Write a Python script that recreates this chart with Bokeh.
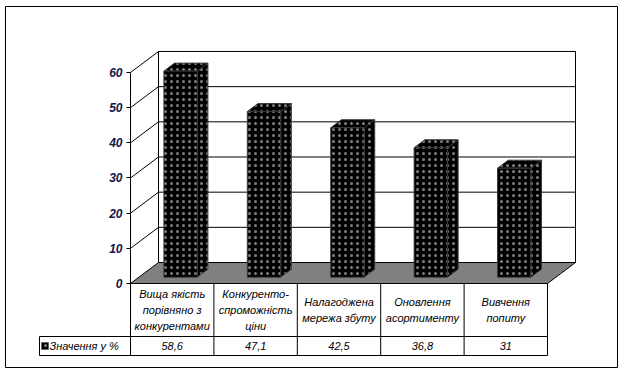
from bokeh.plotting import figure
from bokeh.models import FixedTicker
from bokeh.core.properties import value
from bokeh.embed import file_html
from bokeh.resources import INLINE

# ---- data ----
categories = ["Вища якість\nпорівняно з\nконкурентами",
              "Конкуренто-\nспроможність\nціни",
              "Налагоджена\nмережа збуту",
              "Оновлення\nасортименту",
              "Вивчення\nпопиту"]
values = [58.6, 47.1, 42.5, 36.8, 31]
series_name = "Значення у %"
y_ticks = [0, 10, 20, 30, 40, 50, 60]

# ---- layout constants (pixels -> data units) ----
W, H = 623, 372
BL, BT, BR, BB = 5, 6, 617, 367     # outer frame box in page px
PX_X = 83.4          # px per category
PX_Y = 3.517         # px per value unit
X0_PX, Y0_PX = 130, 283   # origin (category 0 / value 0) in page px
xs = (BL - X0_PX) / PX_X
xe = (BR - X0_PX) / PX_X
ye = (Y0_PX - BT) / PX_Y
ys = (Y0_PX - BB) / PX_Y
DX = 28 / PX_X       # depth offset
DY = 21 / PX_Y
Z0, Z1 = 0.30, 0.68  # bar depth span
BW = 0.40            # bar width
ROW1 = -53 / PX_Y    # bottom of category row
ROW2 = -72 / PX_Y    # bottom of values row
TLEFT = (39 - X0_PX) / PX_X
YMAX = max(y_ticks)
n = len(values)

p = figure(width=W, height=H, x_range=(xs, xe), y_range=(ys, ye),
           output_backend="svg", toolbar_location=None,
           min_border_left=BL, min_border_top=BT,
           min_border_right=W - BR, min_border_bottom=H - BB,
           x_axis_location=None, y_axis_location="left")
p.grid.visible = False
p.background_fill_color = "white"
p.border_fill_color = "white"
p.outline_line_color = "black"
p.outline_line_width = 1

# y axis at front-left edge
ax = p.yaxis[0]
ax.fixed_location = 0
ax.bounds = (0, YMAX)
ax.ticker = FixedTicker(ticks=y_ticks)
ax.major_tick_in = 0
ax.major_tick_out = 4
ax.minor_tick_line_color = None
ax.axis_line_color = "black"
ax.major_label_text_font = "Liberation Sans"
ax.major_label_text_font_style = "bold italic"
ax.major_label_text_font_size = "12px"
ax.major_label_text_color = "#14144a"
ax.major_label_standoff = 4

# back wall
p.patch([DX, n + DX, n + DX, DX], [DY, DY, YMAX + DY, YMAX + DY],
        fill_color="white", line_color="black", line_width=1)
# back wall gridlines
gl = [t for t in y_ticks if 0 < t < YMAX]
p.segment(x0=[DX] * len(gl), y0=[t + DY for t in gl],
          x1=[n + DX] * len(gl), y1=[t + DY for t in gl],
          line_color="black", line_width=1)
# side wall diagonals
dl = [t for t in y_ticks if t > 0]
p.segment(x0=[0] * len(dl), y0=dl, x1=[DX] * len(dl), y1=[t + DY for t in dl],
          line_color="black", line_width=1)
# floor
p.patch([0, n, n + DX, DX], [0, 0, DY, DY],
        fill_color="#808080", line_color="black", line_width=1)

# bars (front, side, top faces)
fx, fy, sx, sy, tx, ty = [], [], [], [], [], []
for i, v in enumerate(values):
    xl, xr = i + 0.5 - BW / 2, i + 0.5 + BW / 2
    a, b = Z0 * DX, Z1 * DX
    c, d = Z0 * DY, Z1 * DY
    fx.append([xl + a, xr + a, xr + a, xl + a]); fy.append([c, c, v + c, v + c])
    sx.append([xr + a, xr + b, xr + b, xr + a]); sy.append([c, d, v + d, v + c])
    tx.append([xl + a, xr + a, xr + b, xl + b]); ty.append([v + c, v + c, v + d, v + d])
for X, Y in ((sx, sy), (tx, ty), (fx, fy)):
    p.patches(X, Y, fill_color="black", line_color="#3a3a3a", line_width=1,
              hatch_pattern="dot", hatch_color="white", hatch_scale=6,
              hatch_weight=0.2, hatch_alpha=0.5)

# data table lines
cols = list(range(n + 1))
p.segment(x0=cols, y0=[0] * len(cols), x1=cols, y1=[ROW2] * len(cols),
          line_color="black", line_width=1)
p.segment(x0=[0, TLEFT, TLEFT, TLEFT], y0=[0, ROW1, ROW2, ROW1],
          x1=[n, n, n, TLEFT], y1=[0, ROW1, ROW2, ROW2],
          line_color="black", line_width=1)

# category labels
centers = [i + 0.5 for i in range(n)]
p.text(x=centers, y=[ROW1 / 2] * n, text=categories,
       text_font=value("Liberation Sans"), text_font_style="italic",
       text_font_size="11px", text_align="center", text_baseline="middle",
       text_line_height=1.33, text_color="black")
# values row
labels = [f"{v:g}".replace(".", ",") for v in values]
p.text(x=centers, y=[(ROW1 + ROW2) / 2] * n, text=labels,
       text_font=value("Liberation Sans"), text_font_style="italic",
       text_font_size="11px", text_align="center", text_baseline="middle",
       text_color="black")
# legend key + name
p.rect(x=[TLEFT + 5.5 / PX_X], y=[(ROW1 + ROW2) / 2], width=7, height=7,
       width_units="screen", height_units="screen",
       fill_color="black", line_color="#666666",
       hatch_pattern="dot", hatch_color="white", hatch_scale=6,
       hatch_weight=0.2, hatch_alpha=0.5)
p.text(x=[TLEFT + 10 / PX_X], y=[(ROW1 + ROW2) / 2], text=[series_name],
       text_font=value("Liberation Sans"), text_font_style="italic",
       text_font_size="11px", text_align="left", text_baseline="middle",
       text_color="black")

open("out.html", "w").write(file_html(p, INLINE))
